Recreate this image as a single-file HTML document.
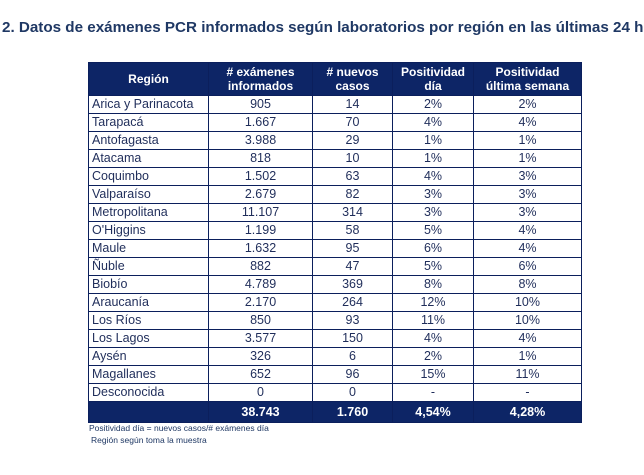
<!DOCTYPE html>
<html><head><meta charset="utf-8"><style>
body{margin:0;width:644px;height:475px;background:#fff;font-family:"Liberation Sans",sans-serif;position:relative;overflow:hidden}
.t{position:absolute;left:2px;top:19px;font-size:15.2px;font-weight:bold;color:#1f3864;white-space:nowrap}
table{position:absolute;left:88px;top:62px;border-collapse:collapse;font-size:12.5px;color:#1f2d5a}
td,th{border:1.5px solid #0b1f5c;padding:0;height:17px;line-height:15px;text-align:center}
th{background:#0d2566;color:#fff;font-weight:bold;font-size:12px;height:32px;line-height:14px}
td:first-child{text-align:left;padding-left:3px}
tr.tot td{background:#0d2566;color:#fff;font-weight:bold;height:20px}
.n{position:absolute;left:89px;font-size:8.5px;color:#1f3864}
</style></head><body>
<div class="t">2. Datos de exámenes PCR informados según laboratorios por región en las últimas 24 hrs</div>
<table>
<colgroup><col style="width:120px"><col style="width:104px"><col style="width:80px"><col style="width:81px"><col style="width:108px"></colgroup>
<tr><th>Región</th><th># exámenes<br>informados</th><th># nuevos<br>casos</th><th>Positividad<br>día</th><th>Positividad<br>última semana</th></tr>
<tr><td>Arica y Parinacota</td><td>905</td><td>14</td><td>2%</td><td>2%</td></tr>
<tr><td>Tarapacá</td><td>1.667</td><td>70</td><td>4%</td><td>4%</td></tr>
<tr><td>Antofagasta</td><td>3.988</td><td>29</td><td>1%</td><td>1%</td></tr>
<tr><td>Atacama</td><td>818</td><td>10</td><td>1%</td><td>1%</td></tr>
<tr><td>Coquimbo</td><td>1.502</td><td>63</td><td>4%</td><td>3%</td></tr>
<tr><td>Valparaíso</td><td>2.679</td><td>82</td><td>3%</td><td>3%</td></tr>
<tr><td>Metropolitana</td><td>11.107</td><td>314</td><td>3%</td><td>3%</td></tr>
<tr><td>O'Higgins</td><td>1.199</td><td>58</td><td>5%</td><td>4%</td></tr>
<tr><td>Maule</td><td>1.632</td><td>95</td><td>6%</td><td>4%</td></tr>
<tr><td>Ñuble</td><td>882</td><td>47</td><td>5%</td><td>6%</td></tr>
<tr><td>Biobío</td><td>4.789</td><td>369</td><td>8%</td><td>8%</td></tr>
<tr><td>Araucanía</td><td>2.170</td><td>264</td><td>12%</td><td>10%</td></tr>
<tr><td>Los Ríos</td><td>850</td><td>93</td><td>11%</td><td>10%</td></tr>
<tr><td>Los Lagos</td><td>3.577</td><td>150</td><td>4%</td><td>4%</td></tr>
<tr><td>Aysén</td><td>326</td><td>6</td><td>2%</td><td>1%</td></tr>
<tr><td>Magallanes</td><td>652</td><td>96</td><td>15%</td><td>11%</td></tr>
<tr><td>Desconocida</td><td>0</td><td>0</td><td>-</td><td>-</td></tr>
<tr class="tot"><td></td><td>38.743</td><td>1.760</td><td>4,54%</td><td>4,28%</td></tr>
</table>
<div class="n" style="top:423px">Positividad día = nuevos casos/# exámenes día</div>
<div class="n" style="top:435px;left:91px">Región según toma la muestra</div>
</body></html>
